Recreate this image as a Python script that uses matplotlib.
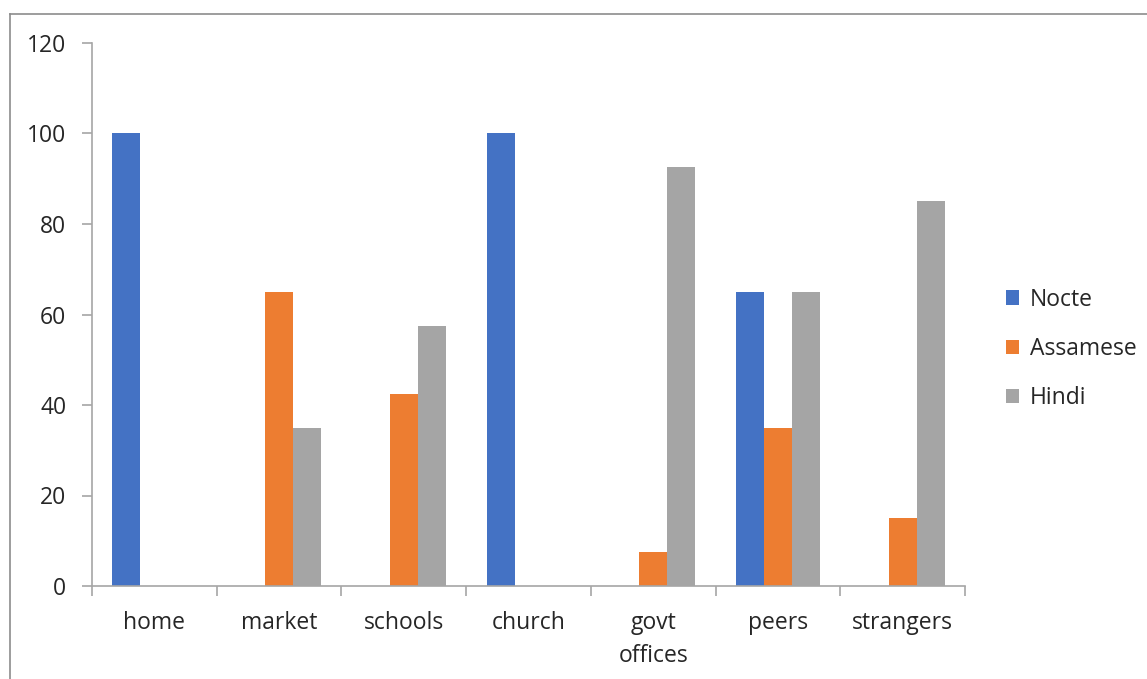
import matplotlib
matplotlib.use("Agg")
import matplotlib.pyplot as plt
from matplotlib.lines import Line2D
import numpy as np

categories = ["home", "market", "schools", "church", "govt\noffices", "peers", "strangers"]
nocte = [100, 0, 0, 100, 0, 65, 0]
assamese = [0, 65, 42.5, 0, 7.5, 35, 15]
hindi = [0, 35, 57.5, 0, 92.5, 65, 85]
series_names = ["Nocte", "Assamese", "Hindi"]
colors = ["#4472C4", "#ED7D31", "#A5A5A5"]
y_ticks = [0, 20, 40, 60, 80, 100, 120]

plt.rcParams["font.family"] = ["Open Sans", "DejaVu Sans"]
text_color = "#262626"
axis_color = "#A6A6A6"
fs = 16.5

fig = plt.figure(figsize=(11.47, 6.79), dpi=100)
ax = fig.add_axes([92 / 1147, 1 - 586 / 679, (965 - 92) / 1147, (586 - 43) / 679])

# outer chart-area border (top and left edges visible)
fig.add_artist(Line2D([10 / 1147, 1.0], [1 - 14 / 679, 1 - 14 / 679], transform=fig.transFigure,
                      color="#8C8C8C", lw=1.2))
fig.add_artist(Line2D([10 / 1147, 10 / 1147], [0.0, 1 - 14 / 679], transform=fig.transFigure,
                      color="#8C8C8C", lw=1.2))

x = np.arange(len(categories))
w = 0.2245
handles = []
for k, (vals, name, c) in enumerate(zip([nocte, assamese, hindi], series_names, colors)):
    xs = x + (k - 1) * w
    keep = [i for i, v in enumerate(vals) if v > 0]
    b = ax.bar(xs[keep], [vals[i] for i in keep], width=w, color=c, linewidth=0, label=name)
    handles.append(b)

ax.set_xlim(-0.5, len(categories) - 0.5)
ax.set_ylim(0, 120)
ax.set_yticks(y_ticks)
ax.set_xticks(x)
ax.set_xticklabels(categories, linespacing=1.5)
ax.set_xticks(np.arange(-0.5, len(categories)), minor=True)

for s in ["top", "right"]:
    ax.spines[s].set_visible(False)
for s in ["left", "bottom"]:
    ax.spines[s].set_color(axis_color)
    ax.spines[s].set_linewidth(1.2)

ax.tick_params(axis="x", which="major", length=0, pad=18, labelsize=fs, labelcolor=text_color)
ax.tick_params(axis="x", which="minor", length=7, width=1.2, color=axis_color)
ax.tick_params(axis="y", which="major", length=7, width=1.2, color=axis_color, pad=11.5,
               labelsize=fs, labelcolor=text_color)
for lbl in ax.get_xticklabels():
    lbl.set_verticalalignment("top")

fig.legend(handles=handles, labels=series_names, loc="center left",
           bbox_to_anchor=(985 / 1147, 1 - 349 / 679), frameon=False,
           handlelength=0.6, handleheight=0.6, handletextpad=0.45,
           labelspacing=1.1, fontsize=fs, labelcolor=text_color)

fig.savefig("out.png", dpi=100)
